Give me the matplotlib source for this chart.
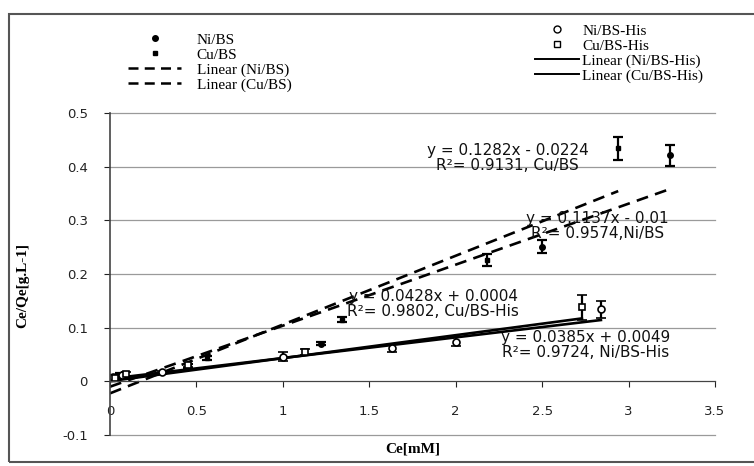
import numpy as np
import matplotlib
matplotlib.use('Agg')
import matplotlib.pyplot as plt
from matplotlib.lines import Line2D
from matplotlib.patches import Rectangle

# data
ni_x = [0.01, 0.06, 0.45, 1.22, 2.50, 3.24]
ni_y = [0.008, 0.012, 0.028, 0.070, 0.251, 0.421]
ni_err = [0.004, 0.004, 0.004, 0.003, 0.012, 0.020]

cu_x = [0.02, 0.08, 0.56, 1.34, 2.18, 2.94]
cu_y = [0.005, 0.010, 0.043, 0.115, 0.226, 0.434]
cu_err = [0.004, 0.004, 0.004, 0.004, 0.012, 0.022]

nih_x = [0.02, 0.07, 0.30, 1.00, 1.63, 2.00, 2.84]
nih_y = [0.008, 0.012, 0.017, 0.046, 0.062, 0.074, 0.134]
nih_err = [0.004, 0.004, 0.003, 0.008, 0.008, 0.008, 0.016]

cuh_x = [0.03, 0.09, 0.45, 1.13, 2.73]
cuh_y = [0.006, 0.013, 0.030, 0.055, 0.138]
cuh_err = [0.004, 0.004, 0.003, 0.006, 0.023]

# trendline coefficients printed on the chart
ni_fit = (0.1137, -0.01)
cu_fit = (0.1282, -0.0224)
nih_fit = (0.0385, 0.0049)
cuh_fit = (0.0428, 0.0004)

eq_texts = ['y = 0.1282x - 0.0224\nR²= 0.9131, Cu/BS',
            'y = 0.1137x - 0.01\nR²= 0.9574,Ni/BS',
            'y = 0.0428x + 0.0004\nR²= 0.9802, Cu/BS-His',
            'y = 0.0385x + 0.0049\nR²= 0.9724, Ni/BS-His']
eq_pos = [(2.30, 0.416), (2.82, 0.289), (1.87, 0.144), (2.75, 0.068)]

yticks = [-0.1, 0, 0.1, 0.2, 0.3, 0.4, 0.5]
ylabels = ['-0.1', '0', '0.1', '0.2', '0.3', '0.4', '0.5']
xticks = [0, 0.5, 1, 1.5, 2, 2.5, 3, 3.5]
xlabels = ['0', '0.5', '1', '1.5', '2', '2.5', '3', '3.5']

serif = 'Liberation Serif'

fig = plt.figure(figsize=(7.54, 4.66), dpi=100)
ax = fig.add_axes([110/754, 1-435/466, 605/754, 322/466])

ebkw = dict(ecolor='black', elinewidth=1.6, capsize=3.8, capthick=1.6, linestyle='none')
ax.errorbar(ni_x, ni_y, yerr=ni_err, marker='o', ms=4, mfc='black', mec='black', **ebkw)
ax.errorbar(cu_x, cu_y, yerr=cu_err, marker='s', ms=3.5, mfc='black', mec='black', **ebkw)
ax.errorbar(nih_x, nih_y, yerr=nih_err, marker='o', ms=5, mfc='white', mec='black', mew=1.2, **ebkw)
ax.errorbar(cuh_x, cuh_y, yerr=cuh_err, marker='s', ms=5, mfc='white', mec='black', mew=1.2, **ebkw)

for xs, (m, b), ls in [(ni_x, ni_fit, (0, (4.5, 2.8))), (cu_x, cu_fit, (0, (4.5, 2.8))),
                       (nih_x, nih_fit, '-'), (cuh_x, cuh_fit, '-')]:
    xx = np.array([0.0, max(xs)])
    ax.plot(xx, m * xx + b, color='black', lw=1.9, linestyle=ls)

for txt, (tx, ty) in zip(eq_texts, eq_pos):
    ax.text(tx, ty, txt, ha='center', va='center', multialignment='center',
            fontsize=11, family='DejaVu Sans', linespacing=1.0, color='#111111')

ax.set_xlim(0, 3.5)
ax.set_ylim(-0.1, 0.5)
ax.set_yticks(yticks)
ax.set_yticklabels(ylabels)
ax.set_xticks(xticks)
ax.set_xticklabels(xlabels)
ax.yaxis.grid(True, color='#9a9a9a', lw=0.9)
for gl in ax.get_ygridlines():
    gl.set_clip_on(False)
ax.set_axisbelow(True)
for s in ['top', 'right']:
    ax.spines[s].set_visible(False)
ax.spines['bottom'].set_position(('data', 0))
ax.spines['bottom'].set_color('#444444')
ax.spines['left'].set_color('#444444')
ax.spines['left'].set_linewidth(1.2)
ax.tick_params(axis='y', direction='out', length=4, pad=12, labelsize=9.5, colors='#222222')
ax.tick_params(axis='x', direction='out', length=4, pad=13, labelsize=9.5, colors='#222222')

fig.text(413/754, 1-449/466, 'Ce[mM]', ha='center', va='center', fontsize=11,
         family=serif, fontweight='bold')
fig.text(23/754, 1-285/466, 'Ce/Qe[g.L-1]', ha='center', va='center', fontsize=11,
         family=serif, fontweight='bold', rotation=90)

left_handles = [Line2D([], [], marker='o', ms=4, color='black', linestyle='none'),
                Line2D([], [], marker='s', ms=3.5, color='black', linestyle='none'),
                Line2D([], [], color='black', lw=1.8, linestyle=(0, (4, 2.5))),
                Line2D([], [], color='black', lw=1.8, linestyle=(0, (4, 2.5)))]
left_labels = ['Ni/BS', 'Cu/BS', 'Linear (Ni/BS)', 'Linear (Cu/BS)']
right_handles = [Line2D([], [], marker='o', ms=5, mfc='white', mec='black', linestyle='none'),
                 Line2D([], [], marker='s', ms=5, mfc='white', mec='black', linestyle='none'),
                 Line2D([], [], color='black', lw=1.4),
                 Line2D([], [], color='black', lw=1.4)]
right_labels = ['Ni/BS-His', 'Cu/BS-His', 'Linear (Ni/BS-His)', 'Linear (Cu/BS-His)']

leg_kw = dict(frameon=False, borderpad=0, borderaxespad=0, labelspacing=0.08,
              prop={'family': serif, 'size': 11})
fig.legend(left_handles, left_labels, loc='upper left', handlelength=3.5,
           handletextpad=1.0, bbox_to_anchor=(128/754, 1-33/466), **leg_kw)
fig.legend(right_handles, right_labels, loc='upper left', handlelength=2.9,
           handletextpad=0.2, bbox_to_anchor=(535/754, 1-24/466), **leg_kw)

fig.patches.append(Rectangle((9/754, 1-462/466), 760/754, 448/466, transform=fig.transFigure,
                             fill=False, edgecolor='#555555', lw=1.5))

fig.savefig('out.png', dpi=100)
